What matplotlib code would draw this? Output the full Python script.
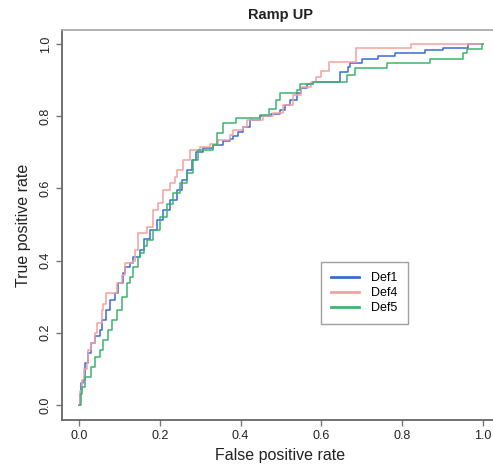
import matplotlib
matplotlib.use("Agg")
import matplotlib.pyplot as plt

# ROC curves (x = false positive rate, y = true positive rate)
def1_fpr = [0, 0.003, 0.006, 0.011, 0.015, 0.022, 0.03, 0.04, 0.052, 0.056, 0.068, 0.077, 0.089, 0.097,
            0.11, 0.114, 0.126, 0.134, 0.151, 0.16, 0.176, 0.192, 0.209, 0.225, 0.242, 0.254, 0.267,
            0.279, 0.291, 0.308, 0.332, 0.357, 0.375, 0.382, 0.395, 0.407, 0.423, 0.448, 0.475, 0.4975,
            0.51, 0.522, 0.539, 0.55, 0.565, 0.58, 0.646, 0.666, 0.672, 0.70, 0.74, 0.782, 0.856, 0.901,
            0.963, 1.0]
def1_tpr = [0, 0.03, 0.06, 0.07, 0.115, 0.143, 0.171, 0.19, 0.208, 0.235, 0.263, 0.29, 0.309, 0.337,
            0.365, 0.383, 0.392, 0.41, 0.43, 0.46, 0.485, 0.512, 0.54, 0.568, 0.596, 0.623, 0.651,
            0.679, 0.702, 0.711, 0.72, 0.73, 0.737, 0.745, 0.755, 0.771, 0.79, 0.8, 0.806, 0.817,
            0.83, 0.845, 0.863, 0.878, 0.89, 0.896, 0.923, 0.935, 0.946, 0.958, 0.966, 0.974, 0.983, 0.99,
            1.0, 1.0]

def4_fpr = [0, 0.003, 0.008, 0.012, 0.019, 0.023, 0.031, 0.04, 0.044, 0.056, 0.06, 0.068, 0.093, 0.106,
            0.114, 0.135, 0.139, 0.147, 0.168, 0.184, 0.195, 0.209, 0.225, 0.238, 0.242, 0.258, 0.275,
            0.3, 0.325, 0.345, 0.374, 0.382, 0.407, 0.415, 0.456, 0.48, 0.506, 0.531, 0.55, 0.575,
            0.588, 0.60, 0.62, 0.687, 0.823, 1.0]
def4_tpr = [0, 0.04, 0.07, 0.1, 0.12, 0.152, 0.171, 0.2, 0.226, 0.263, 0.28, 0.31, 0.337, 0.36,
            0.392, 0.40, 0.43, 0.476, 0.494, 0.54, 0.56, 0.596, 0.614, 0.632, 0.651, 0.679, 0.706,
            0.716, 0.724, 0.733, 0.748, 0.762, 0.771, 0.79, 0.8, 0.81, 0.831, 0.86, 0.88, 0.896,
            0.909, 0.925, 0.951, 0.99, 1.0, 1.0]

def5_fpr = [0, 0.004, 0.007, 0.015, 0.031, 0.04, 0.052, 0.06, 0.073, 0.081, 0.093, 0.106, 0.118, 0.126,
            0.134, 0.147, 0.151, 0.16, 0.168, 0.184, 0.2, 0.217, 0.233, 0.25, 0.267, 0.283, 0.295,
            0.333, 0.341, 0.357, 0.39, 0.448, 0.47, 0.489, 0.4975, 0.539, 0.547, 0.58, 0.663, 0.683,
            0.762, 0.869, 0.95, 0.96, 0.997, 1.0]
def5_tpr = [0, 0.03, 0.05, 0.078, 0.106, 0.134, 0.152, 0.18, 0.208, 0.235, 0.263, 0.3, 0.337, 0.355,
            0.383, 0.41, 0.42, 0.44, 0.457, 0.485, 0.52, 0.558, 0.586, 0.614, 0.642, 0.679, 0.707,
            0.72, 0.753, 0.78, 0.794, 0.803, 0.82, 0.845, 0.863, 0.873, 0.89, 0.896, 0.915, 0.933,
            0.946, 0.958, 0.974, 0.987, 1.0, 1.0]

series = [("Def1", def1_fpr, def1_tpr, "#3a6ad8"),
          ("Def4", def4_fpr, def4_tpr, "#f4a0a0"),
          ("Def5", def5_fpr, def5_tpr, "#3db36e")]

ticks = [0.0, 0.2, 0.4, 0.6, 0.8, 1.0]

plt.rcParams['font.family'] = ['Liberation Sans', 'DejaVu Sans']

fig = plt.figure(figsize=(4.93, 4.74), dpi=100)
# axes box runs a little past the right edge, like the cropped original
ax = fig.add_axes([62 / 493, 1 - 420 / 474, 437 / 493, 390 / 474])

for name, xs, ys, col in series:
    ax.plot(xs, ys, drawstyle='steps-post', color=col, lw=1.1, label=name)

ax.set_xlim(-0.042, 1.04)
ax.set_ylim(-0.0416, 1.0388)
ax.set_xticks(ticks)
ax.set_yticks(ticks)
ax.set_xticklabels(["%.1f" % t for t in ticks])
ax.set_yticklabels(["%.1f" % t for t in ticks], rotation=90, va='center')
ax.tick_params(direction='out', length=4.5, width=1, color='#777777',
               labelsize=9, labelcolor='#222222', pad=3)

for side in ['left', 'bottom']:
    ax.spines[side].set_color('#666666')
    ax.spines[side].set_linewidth(1.3)
ax.spines['top'].set_color('#aaaaaa')
ax.spines['top'].set_linewidth(1.3)
ax.spines['right'].set_visible(False)

ax.set_xlabel("False positive rate", fontsize=11.5, color='#222222', labelpad=4)
ax.set_ylabel("True positive rate", fontsize=11.5, color='#222222', labelpad=6)
ax.set_title("Ramp UP", fontsize=10.5, fontweight='bold', color='#222222', pad=8)

leg = ax.legend(loc='upper left', bbox_to_anchor=(0.593, 0.405), borderaxespad=0,
                fontsize=9, frameon=True, fancybox=False, handlelength=2.2,
                labelspacing=0.25, borderpad=0.8, handletextpad=1.0)
leg.get_frame().set_edgecolor('#888888')
leg.get_frame().set_linewidth(1.0)
for line in leg.get_lines():
    line.set_linewidth(2)

fig.savefig("out.png", dpi=100)
